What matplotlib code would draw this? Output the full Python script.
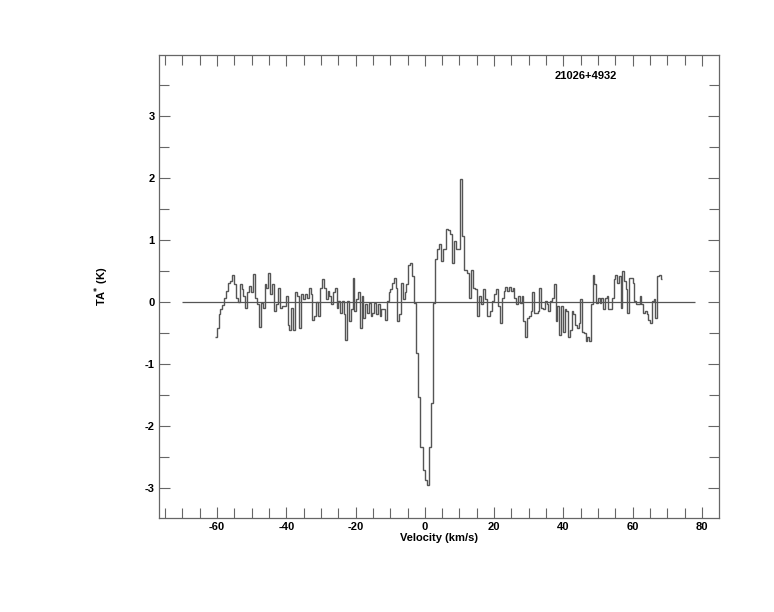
import numpy as np
import matplotlib
matplotlib.use("Agg")
import matplotlib.pyplot as plt
from matplotlib.ticker import MultipleLocator

# ---- data ----
source_name = "21026+4932"
x_label = "Velocity (km/s)"
y_label = "TA$^{*}$ (K)"

# segment boundaries in velocity (km/s)
seg_bounds = [-60.66, -29.11, -4.28, 21.70, 41.91, 68.55]

seg1_vals = [-0.57, -0.42, -0.2, -0.12, -0.05, 0.06, 0.17, 0.3, 0.33, 0.44, 0.28, 0.06, 0.0,
             0.28, 0.2, 0.09, -0.1, 0.15, 0.25, 0.15, 0.45, 0.06, -0.04, -0.4, -0.02, -0.1,
             0.28, 0.23, 0.47, 0.12, 0.28, -0.15, -0.04, 0.23, -0.1, -0.07, -0.07, 0.09,
             -0.37, -0.45, -0.1, -0.45, 0.15, 0.09, -0.42, 0.12, 0.04, 0.12, 0.06, 0.23,
             0.12, -0.29, -0.23, 0.0, -0.23, 0.23, 0.36]
seg2_vals = [0.23, 0.04, 0.17, 0.09, -0.03, 0.15, 0.23, -0.1, 0.01, -0.18, 0.01, -0.2, -0.61,
             0.01, -0.31, -0.12, 0.38, -0.15, 0.04, 0.15, -0.42, 0.09, -0.26, -0.04, -0.18,
             -0.02, -0.23, -0.18, -0.02, -0.2, -0.04, -0.23, -0.12, -0.12, -0.29, 0.01, 0.15,
             0.2, 0.31, 0.38, 0.23, -0.31, -0.2, 0.31, 0.04, 0.15, 0.28, 0.6]
seg3_vals = [0.63, 0.42, -0.02, -0.83, -1.53, -2.34, -2.72, -2.88, -2.96, -2.34, -1.64,
             -0.02, 0.69, 0.85, 0.93, 0.66, 0.85, 1.17, 1.15, 1.09, 0.63, 0.98, 0.85,
             0.85, 1.98, 1.06, 0.52, 0.47, 0.06, 0.52, 0.23, 0.2, -0.23, 0.09, -0.04, 0.2,
             0.04, -0.23, -0.15, 0.01, 0.12, 0.2, -0.07]
seg4_vals = [-0.34, 0.06, 0.17, 0.24, 0.17, 0.24, 0.17, 0.23, 0.06, -0.04, 0.09, -0.02, 0.09,
             -0.31, -0.56, -0.26, -0.23, -0.15, 0.15, -0.18, -0.18, -0.15, 0.23, -0.1, -0.12,
             0.01, -0.04, -0.15, 0.01, 0.06, 0.28, -0.31, -0.07, -0.53, -0.07, -0.48, -0.12,
             -0.15, -0.56]
seg5_vals = [-0.45, -0.15, -0.2, -0.37, -0.42, -0.34, 0.04, -0.48, -0.5, -0.64, -0.56, -0.64,
             -0.04, 0.44, 0.28, -0.02, 0.06, -0.02, 0.06, -0.12, 0.06, 0.09, -0.12, -0.12,
             0.06, 0.36, 0.44, 0.31, 0.42, -0.1, 0.5, 0.34, 0.2, -0.18, 0.39, 0.39, 0.31,
             0.01, -0.04, -0.04, 0.09, -0.04, -0.18, -0.15, -0.2, -0.29, -0.34, 0.01, 0.04,
             -0.26, 0.42, 0.44, 0.36]

baseline_range = [-70, 78]

x_limits = [-76.74, 84.92]
y_limits = [-3.487, 3.98]

# ---- build channel edges ----
segments = [seg1_vals, seg2_vals, seg3_vals, seg4_vals, seg5_vals]
edges = [seg_bounds[0]]
values = []
for i, vals in enumerate(segments):
    e = np.linspace(seg_bounds[i], seg_bounds[i + 1], len(vals) + 1)
    edges.extend(e[1:])
    values.extend(vals)
edges = np.array(edges)
values = np.array(values)

plt.rcParams['font.family'] = ['Liberation Sans', 'DejaVu Sans']
plt.rcParams['font.weight'] = 'bold'
plt.rcParams['axes.unicode_minus'] = False

fig = plt.figure(figsize=(7.74, 6.12), dpi=100)
ax = fig.add_axes([159 / 774, 1 - 518 / 612, 560 / 774, 463 / 612])

line_col = '#555555'
ax.stairs(values, edges, baseline=None, color=line_col, linewidth=1.0)
ax.hlines(0, baseline_range[0], baseline_range[1], color=line_col, linewidth=0.9)

ax.set_xlim(*x_limits)
ax.set_ylim(*y_limits)

ax.xaxis.set_major_locator(MultipleLocator(20))
ax.xaxis.set_minor_locator(MultipleLocator(5))
ax.yaxis.set_major_locator(MultipleLocator(1))
ax.yaxis.set_minor_locator(MultipleLocator(0.5))

ax.tick_params(which='both', direction='in', top=True, right=True, color='#666666',
               width=0.8, labelsize=8, pad=3)
ax.tick_params(which='major', length=8)
ax.tick_params(which='minor', length=7)
for lab in ax.get_xticklabels() + ax.get_yticklabels():
    lab.set_fontweight('bold')

for sp in ax.spines.values():
    sp.set_color('#666666')
    sp.set_linewidth(0.9)

ax.set_xlabel(x_label, fontsize=8, fontweight='bold')
ax.xaxis.set_label_coords(0.5, -0.032)
ax.set_ylabel(y_label, fontsize=8, fontweight='bold')
ax.yaxis.set_label_coords(-0.085, 0.5)

ax.text(0.763, 0.955, source_name, transform=ax.transAxes, fontsize=8,
        fontweight='bold', ha='center', va='center')

fig.savefig("out.png", dpi=100)
